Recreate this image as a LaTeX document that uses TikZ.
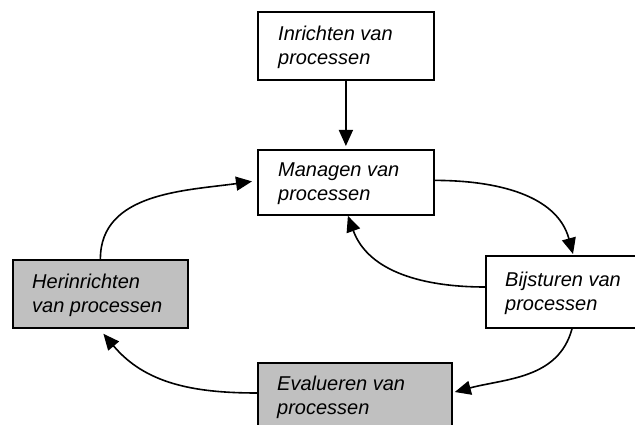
\documentclass[tikz,border=0pt]{standalone}
\usepackage{fontspec}
\setmainfont{Liberation Sans}
\usetikzlibrary{arrows.meta}
\definecolor{boxgray}{HTML}{C0C0C0}
\begin{document}
\begin{tikzpicture}[x=1pt,y=-1pt,
  box/.style={draw=black, line width=1.8pt, rectangle, inner sep=0pt, anchor=north west},
  shaded/.style={box, fill=boxgray},
  lbl/.style={anchor=north west, inner sep=0pt, align=left,
              font=\fontsize{20}{23.5}\selectfont\itshape},
  conn/.style={line width=1.6pt, -{Triangle[length=16pt,width=14pt]}}]
\useasboundingbox (0,0) rectangle (635,425);
\clip (0,0) rectangle (635,425);

% process boxes (the right one runs off the page)
\node[box, minimum width=176, minimum height=68] (inr) at (257,11) {};
\node[box, minimum width=176, minimum height=65] (man) at (257,149) {};
\node[shaded, minimum width=175, minimum height=68] (her) at (12,259) {};
\node[box, minimum width=240, minimum height=72] (bij) at (485,255) {};
\node[shaded, minimum width=194, minimum height=80] (eva) at (257,362) {};

% named ends on the boxes
\coordinate (bijtop) at ([xshift=88]bij.north west);
\coordinate (bijbot) at ([xshift=87]bij.south west);
\coordinate (bijin) at ([yshift=-32]bij.north west);
\coordinate (evain) at ([yshift=-30]eva.north east);
\coordinate (evaout) at ([yshift=-31]eva.north west);

% box captions
\node[lbl] (tinr) at (278,26) {Inrichten van\\processen};
\node[lbl] (tman) at (278,163) {Managen van\\processen};
\node[lbl] (ther) at (32,274) {Herinrichten\\van processen};
\node[lbl] (tbij) at (505,272) {Bijsturen van\\processen};
\node[lbl] (teva) at (277,376) {Evalueren van\\processen};

% process cycle
\draw[conn] (inr.south) -- ([yshift=3]man.north);
\draw[conn] ([yshift=2]man.east) to[out=0, in=105] ([yshift=1]bijtop);
\draw[conn] (bijin) to[out=180, in=-70] ([xshift=2]man.south);
\draw[conn] (bijbot) to[out=-105, in=15] ([xshift=2]evain);
\draw[conn] (evaout) to[out=180, in=-50] ([xshift=3,yshift=-5]her.south);
\draw[conn] (her.north) to[out=90, in=188] ([xshift=-5,yshift=1]man.west);
\end{tikzpicture}
\end{document}
